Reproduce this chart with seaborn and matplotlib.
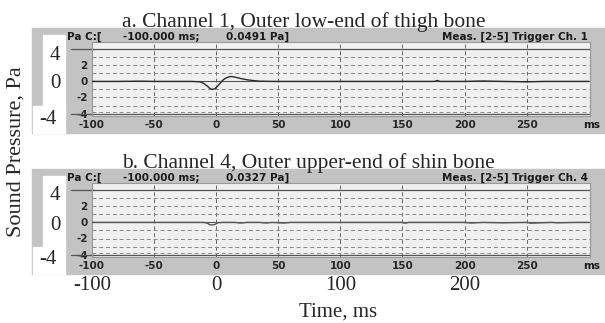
import numpy as np
import pandas as pd
import seaborn as sns
import matplotlib.pyplot as plt
from matplotlib.patches import Rectangle

# channel 1 - outer low-end of thigh bone
t1 = [-100, -80, -60, -50, -40, -20, -13, -10, -7, -5, -3, -1, 1, 3, 5, 7, 9, 11,
      13, 16, 20, 25, 30, 35, 45, 100, 150, 176, 178, 180, 200, 215, 230, 250,
      265, 280, 300]
p1 = [0, 0, 0.03, 0, 0, 0, -0.05, -0.25, -0.6, -0.9, -1.0, -0.9, -0.6, -0.25,
      0.1, 0.35, 0.5, 0.6, 0.6, 0.5, 0.35, 0.2, 0.1, 0.03, 0, 0, 0, 0, 0.12, 0,
      0, 0.05, 0, -0.05, 0, 0, 0]

# channel 4 - outer upper-end of shin bone
t4 = [-100, -50, -20, -10, -7, -5, -3, -1, 1, 5, 15, 20, 25, 35, 40, 45, 55, 60,
      75, 95, 150, 152, 155, 200, 205, 215, 230, 250, 253, 270, 275, 290, 300]
p4 = [0, 0, 0, 0, -0.1, -0.3, -0.3, -0.25, -0.05, 0, 0, -0.08, 0, 0, -0.08, 0,
      -0.08, 0, 0, 0, 0, -0.1, 0, 0, -0.08, 0, -0.05, 0, -0.1, 0, -0.05, 0, 0]

titles = ["a. Channel 1, Outer low-end of thigh bone",
          "b. Channel 4, Outer upper-end of shin bone"]
cursor_time = "-100.000 ms;"
cursor_vals = ["0.0491 Pa]", "0.0327 Pa]"]
triggers = ["Meas. [2-5] Trigger Ch. 1", "Meas. [2-5] Trigger Ch. 4"]
inner_xticks = [-100, -50, 0, 50, 100, 150, 200, 250]
inner_yticks = [2, 0, -2, -4]
outer_yticks = [4, 0, -4]
outer_xticks = [-100, 0, 100, 200]

W, H = 605, 323
SERIF = "Liberation Serif"
SANS = "DejaVu Sans"
GRAY = "#c3c3c3"
PLOT_BG = "#f0f0f0"
XMIN, XMAX = -98, 301
YMIN, YMAX = -4.3, 4.9

sns.set_style("white")
fig = plt.figure(figsize=(W / 100, H / 100), dpi=100)
fig.patch.set_facecolor("white")


def rect(x0, y0, x1, y1):
    return [x0 / W, 1 - y1 / H, (x1 - x0) / W, (y1 - y0) / H]


def fx(x):
    return x / W


def fy(y):
    return 1 - y / H


def box(x0, y0, x1, y1, color, z):
    fig.patches.append(Rectangle((fx(x0), fy(y1)), (x1 - x0) / W, (y1 - y0) / H,
                                 transform=fig.transFigure, color=color, zorder=z))


def panel(dy, t, p, title, val, trig, line_color):
    # gray instrument window and white box for the outer y labels
    box(32, dy + 28, 605, dy + 133, GRAY, -3)
    box(43, dy + 35, 65, dy + 108, "white", -2)
    box(33, dy + 106, 65, dy + 133, "white", -2)
    fig.text(fx(122), fy(dy + 27), title, family=SERIF, fontsize=15.5,
             ha="left", va="baseline")
    hdr = dict(family=SANS, fontsize=7.5, fontweight="bold", va="center",
               color="#1a1a1a")
    fig.text(fx(67), fy(dy + 37), "Pa C:[", ha="left", **hdr)
    fig.text(fx(123), fy(dy + 37), cursor_time, ha="left", **hdr)
    fig.text(fx(226), fy(dy + 37), val, ha="left", **hdr)
    fig.text(fx(588), fy(dy + 37), trig, ha="right", **hdr)
    fig.text(fx(583), fy(dy + 125), "ms", ha="left", **hdr)

    ax = fig.add_axes(rect(92, dy + 42, 590, dy + 116))
    ax.set_facecolor(PLOT_BG)
    df = pd.DataFrame({"t": t, "p": p})
    sns.lineplot(data=df, x="t", y="p", ax=ax, color=line_color, linewidth=1.0,
                 zorder=3)
    ax.set_xlim(XMIN, XMAX)
    ax.set_ylim(YMIN, YMAX)
    for v in inner_xticks[1:]:
        ax.axvline(v, color="#666666", lw=0.7, ls=(0, (4, 3)), zorder=1)
    for v in [3, 2, 1, -1, -2, -3, -3.75]:
        ax.axhline(v, color="#888888", lw=0.7, ls=(0, (4, 3)), zorder=1)
    ax.axhline(0, color="#555555", lw=0.8, zorder=2)
    for v in [4, -4]:
        ax.axhline(v, color="#555555", lw=0.9, zorder=2)
    for s in ax.spines.values():
        s.set_color("#999999")
        s.set_linewidth(0.8)
    ax.set_xticks(inner_xticks)
    ax.set_xticklabels([str(v) for v in inner_xticks], family=SANS,
                       fontsize=7.5, fontweight="bold")
    ax.set_yticks(inner_yticks)
    ax.set_yticklabels([str(v) for v in inner_yticks], family=SANS,
                       fontsize=7.5, fontweight="bold")
    ax.tick_params(length=0, pad=3)
    ax.set_xlabel("")
    ax.set_ylabel("")
    # lines at +-4 reaching out to the inner labels
    ax.plot([XMIN - 19, XMIN], [4, 4], color="#555555", lw=0.9, clip_on=False)
    ax.plot([XMIN - 19, XMIN], [-4, -4], color="#555555", lw=0.9, clip_on=False)
    # outer big y labels (from the surrounding figure axis), sit a bit low
    for v, xx, yy in zip(outer_yticks, [55, 55, 48], [55, 84, 119]):
        fig.text(fx(xx), fy(dy + yy), str(v), family=SERIF, fontsize=15,
                 ha="center", va="center", zorder=5)
    return ax


ax_a = panel(0, t1, p1, titles[0], cursor_vals[0], triggers[0], "#2a2a2a")
ax_b = panel(141, t4, p4, titles[1], cursor_vals[1], triggers[1], "#555555")

# outer axis tick labels and titles
for v in outer_xticks:
    x_pix = ax_b.transData.transform((v, 0))[0]
    fig.text(x_pix / (fig.dpi * fig.get_figwidth()), fy(286), str(v),
             family=SERIF, fontsize=15, ha="center", va="center")
fig.text(fx(338), fy(312), "Time, ms", family=SERIF, fontsize=15,
         ha="center", va="center")
fig.text(fx(16), fy(152), "Sound Pressure, Pa", family=SERIF, fontsize=16,
         ha="center", va="center", rotation=90)

fig.savefig("out.png", dpi=100)
